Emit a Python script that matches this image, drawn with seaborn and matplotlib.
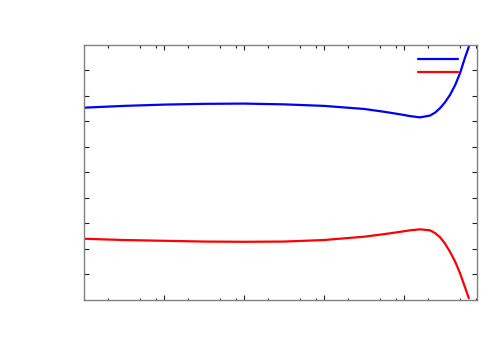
import matplotlib
matplotlib.use("Agg")
import matplotlib.pyplot as plt
import matplotlib.ticker as mticker
import seaborn as sns
import pandas as pd
import numpy as np

# values: log10 of x, y in axis units (0..10)
log_x = [0.0, 0.5, 1.0, 1.5, 2.0, 2.5, 3.0, 3.5, 3.75, 3.95, 4.075, 4.2,
         4.325, 4.39, 4.45, 4.51, 4.575, 4.64, 4.7, 4.76, 4.81]
blue_y = [7.54, 7.61, 7.66, 7.69, 7.70, 7.67, 7.61, 7.49, 7.38, 7.28, 7.21,
          7.16, 7.23, 7.35, 7.52, 7.74, 8.04, 8.43, 8.89, 9.48, 9.93]
red_y = [2.40, 2.35, 2.32, 2.29, 2.28, 2.29, 2.35, 2.48, 2.58, 2.67, 2.73,
         2.77, 2.73, 2.62, 2.46, 2.22, 1.89, 1.50, 1.05, 0.52, 0.07]

series_names = ["blue", "red"]
series_colors = ["#0000ff", "#ff0000"]

x_vals = np.power(10.0, np.array(log_x))
df = pd.DataFrame({
    "x": np.concatenate([x_vals, x_vals]),
    "y": blue_y + red_y,
    "series": [series_names[0]] * len(log_x) + [series_names[1]] * len(log_x),
})

sns.set_theme(style="white")
plt.rcParams["font.family"] = ["DejaVu Sans"]

fig = plt.figure(figsize=(5, 3.5), dpi=100)
ax = fig.add_axes([0.168, 0.143, 0.786, 0.7286])

sns.lineplot(data=df, x="x", y="y", hue="series", palette=series_colors,
             linewidth=1.6, ax=ax, sort=False, legend=False)

ax.set_xscale("log")
ax.set_xlim(1, 10 ** 4.9125)
ax.set_ylim(0, 10)
ax.xaxis.set_major_locator(mticker.FixedLocator([10, 100, 1000, 10000]))
minor = [m * 10 ** k for k in range(0, 5) for m in (2, 5, 8)]
ax.xaxis.set_minor_locator(mticker.FixedLocator(minor))
ax.yaxis.set_major_locator(mticker.FixedLocator(range(1, 10)))
ax.xaxis.set_major_formatter(mticker.NullFormatter())
ax.xaxis.set_minor_formatter(mticker.NullFormatter())
ax.yaxis.set_major_formatter(mticker.NullFormatter())
ax.set_xlabel("")
ax.set_ylabel("")

ax.tick_params(which="both", direction="in", top=True, right=True,
               bottom=True, left=True, color="#222222", width=0.8)
ax.tick_params(which="major", length=3.5)
ax.tick_params(which="minor", length=1.8)
for s in ax.spines.values():
    s.set_color("#808080")
    s.set_linewidth(1.0)

# legend with empty labels, as in the reference
handles = [plt.Line2D([], [], color=c, linewidth=1.6) for c in series_colors]
ax.legend(handles, ["", ""], loc="upper right", frameon=False, fontsize=8,
          bbox_to_anchor=(0.932, 0.866), bbox_transform=fig.transFigure,
          handlelength=3.6, handletextpad=0.0, labelspacing=0.32,
          borderpad=0.2)

fig.savefig("out.png", dpi=100)
